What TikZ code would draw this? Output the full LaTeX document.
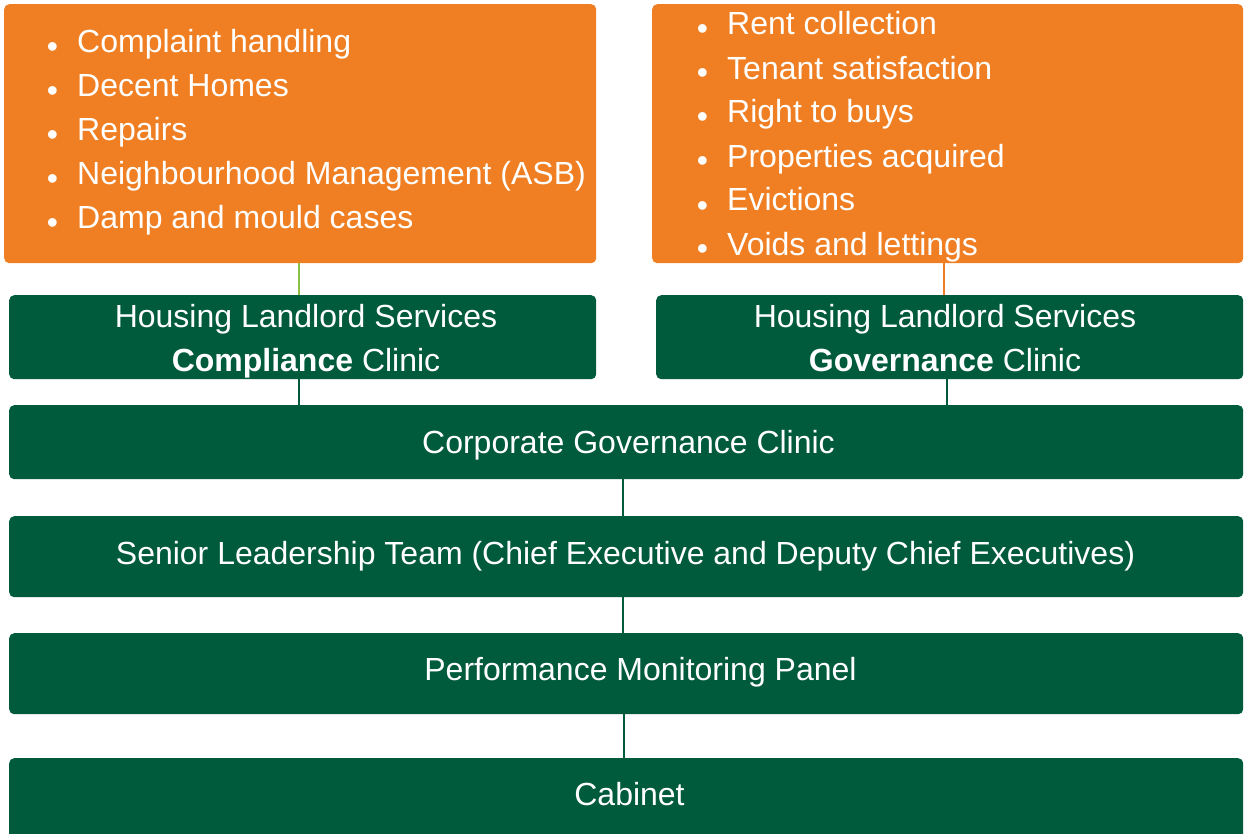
\documentclass[tikz,border=0pt]{standalone}
\usepackage{fontspec}
\setmainfont{Liberation Sans}
\definecolor{hor}{HTML}{F07F23}
\definecolor{hgr}{HTML}{005A3C}
\definecolor{lgr}{HTML}{8CBF45}
\newcommand\bul{\makebox[30.4pt][l]{\raisebox{-5pt}{\textbullet}}}
\begin{document}
\begin{tikzpicture}[x=1pt,y=-1pt,
  box/.style={rectangle, rounded corners=5pt, inner sep=0pt, anchor=north west},
  obox/.style={box, fill=hor},
  gbox/.style={box, fill=hgr},
  txt/.style={text=white, font=\fontsize{32}{44}\selectfont, inner sep=0pt},
  glink/.style={line width=2pt, draw=hgr},
  llink/.style={line width=2pt, draw=lgr},
  olink/.style={line width=2pt, draw=hor}]
\clip (0,0) rectangle (1244,834);
% boxes
\node[obox, minimum width=592, minimum height=259] (ol) at (4,4) {};
\node[obox, minimum width=591, minimum height=259] (or) at (652,4) {};
\node[gbox, minimum width=587, minimum height=84] (hlsc) at (9,295) {};
\node[gbox, minimum width=587, minimum height=84] (hlsg) at (656,295) {};
\node[gbox, minimum width=1234, minimum height=74] (cgc) at (9,405) {};
\node[gbox, minimum width=1234, minimum height=81] (slt) at (9,516) {};
\node[gbox, minimum width=1234, minimum height=81] (pmp) at (9,633) {};
\node[gbox, minimum width=1234, minimum height=100] (cab) at (9,758) {};
% texts (multi-line nodes: base = last line)
\node[txt, anchor=base west, align=left] (oltext) at (46.6,229)
  {\bul Complaint handling\\ \bul Decent Homes\\ \bul Repairs\\
   \bul Neighbourhood Management (ASB)\\ \bul Damp and mould cases};
\node[txt, anchor=base west, align=left] (ortext) at (696.6,255)
  {\bul Rent collection\\ \bul Tenant satisfaction\\ \bul Right to buys\\
   \bul Properties acquired\\ \bul Evictions\\ \bul Voids and lettings};
\node[txt, anchor=base, align=center] (hlsctext) at (306,371)
  {Housing Landlord Services\\ \textbf{Compliance} Clinic};
\node[txt, anchor=base, align=center] (hlsgtext) at (945,371)
  {Housing Landlord Services\\ \textbf{Governance} Clinic};
\node[txt, anchor=base] (cgctext) at (628.5,453) {Corporate Governance Clinic};
\node[txt, anchor=base] (slttext) at (625.5,564) {Senior Leadership Team (Chief Executive and Deputy Chief Executives)};
\node[txt, anchor=base] (pmptext) at (640.5,680) {Performance Monitoring Panel};
\node[txt, anchor=base] (cabtext) at (629.5,805) {Cabinet};
% connectors
\draw[llink] (ol.south -| 299,0) -- (hlsc.north -| 299,0);
\draw[olink] (or.south -| 944,0) -- (hlsg.north -| 944,0);
\draw[glink] (hlsc.south -| 299,0) -- (cgc.north -| 299,0);
\draw[glink] (hlsg.south -| 947,0) -- (cgc.north -| 947,0);
\draw[glink] (cgc.south -| 623,0) -- (slt.north -| 623,0);
\draw[glink] (slt.south -| 623,0) -- (pmp.north -| 623,0);
\draw[glink] (pmp.south -| 624,0) -- (cab.north -| 624,0);
\end{tikzpicture}
\end{document}
